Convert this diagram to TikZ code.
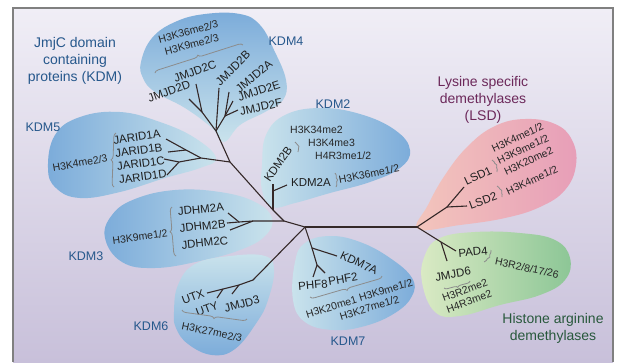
\documentclass[tikz,border=0pt]{standalone}
\usepackage{fontspec}
\setmainfont{Liberation Sans}
\usetikzlibrary{decorations.pathreplacing}
\definecolor{bgtop}{RGB}{240,238,246}
\definecolor{bgbot}{RGB}{200,192,218}
\definecolor{kdmdark}{RGB}{124,172,218}
\definecolor{kdmlight}{RGB}{202,227,236}
\definecolor{lsddark}{RGB}{231,158,184}
\definecolor{lsdlight}{RGB}{243,198,188}
\definecolor{argdark}{RGB}{140,198,150}
\definecolor{arglight}{RGB}{218,234,196}
\definecolor{kdmtext}{RGB}{38,88,140}
\definecolor{lsdtext}{RGB}{108,40,90}
\definecolor{argtext}{RGB}{40,88,60}
\definecolor{branch}{RGB}{52,40,40}
\definecolor{bracket}{RGB}{140,140,140}
\begin{document}
\begin{tikzpicture}[x=1pt, y=-1pt,
  gene/.style={font=\fontsize{11.5}{12}\selectfont, text=black!88, inner sep=0pt},
  genes/.style={gene, align=left, font=\fontsize{11.5}{#1}\selectfont},
  modif/.style={font=\fontsize{10.5}{11}\selectfont, text=black!85, inner sep=0pt},
  modifs/.style={modif, align=center, font=\fontsize{10.5}{#1}\selectfont},
  family/.style={font=\fontsize{12.5}{13}\selectfont, text=kdmtext, inner sep=0pt},
  title/.style={font=\fontsize{14}{17}\selectfont, align=center, inner sep=0pt},
  blob/.style={draw=none},
  twig/.style={draw=branch, line width=1.1pt},
  brack/.style={draw=bracket, line width=0.8pt, decorate, decoration={brace, amplitude=#1}},
  brack/.default=4pt
]
\useasboundingbox (0,0) rectangle (623,362);
\fill[white] (0,0) rectangle (623,362);
\shade[top color=bgtop, bottom color=bgbot] (13,8) rectangle (613,362);
\draw[gray, line width=1.3pt] (13,362) -- (13,8) -- (613,8) -- (613,362);

% group areas
\shade[blob, top color=kdmdark, bottom color=kdmlight] plot[smooth cycle, tension=0.7] coordinates
  {(141,62) (152,38) (175,22) (205,14) (240,14) (260,25) (274,50) (286,80) (283,100) (265,112) (240,125) (224,142) (212,128) (185,108) (155,92) (143,78)};
\shade[blob, left color=kdmdark, right color=kdmlight] plot[smooth cycle, tension=0.7] coordinates
  {(48,168) (55,135) (80,117) (120,112) (160,122) (195,138) (216,158) (200,168) (165,178) (120,192) (80,198) (56,188)};
\shade[blob, left color=kdmlight, right color=kdmdark] plot[smooth cycle, tension=0.7] coordinates
  {(262,165) (266,135) (285,115) (320,108) (360,114) (395,130) (410,150) (400,168) (370,182) (330,193) (295,203) (272,207) (262,190)};
\shade[blob, left color=kdmdark, right color=kdmlight] plot[smooth cycle, tension=0.7] coordinates
  {(105,238) (112,215) (135,199) (175,190) (220,192) (255,202) (272,218) (265,236) (240,250) (200,261) (155,268) (122,262)};
\shade[blob, top color=kdmlight, bottom color=kdmdark] plot[smooth cycle, tension=0.7] coordinates
  {(174,312) (178,285) (195,264) (230,256) (265,256) (274,270) (268,300) (257,322) (235,349) (212,355) (188,344) (176,328)};
\shade[blob, left color=kdmlight, right color=kdmdark] plot[smooth cycle, tension=0.7] coordinates
  {(293,300) (295,262) (305,243) (330,236) (360,242) (390,258) (412,278) (412,296) (395,313) (365,326) (333,330) (305,322)};
\shade[blob, left color=lsdlight, right color=lsddark] plot[smooth cycle, tension=0.7] coordinates
  {(418,229) (428,205) (445,175) (468,146) (495,126) (525,119) (555,124) (572,140) (576,165) (565,190) (540,207) (505,218) (460,225)};
\shade[blob, left color=arglight, right color=argdark] plot[smooth cycle, tension=0.7] coordinates
  {(422,282) (425,255) (440,238) (475,232) (520,233) (555,240) (570,258) (565,280) (540,295) (500,305) (460,316) (435,312)};

% tree
\coordinate (C) at (305,227);
\coordinate (R) at (417,227);
\coordinate (K) at (284,221);
\coordinate (T6) at (273,210);
\coordinate (T5) at (230,162);
\coordinate (T4) at (216,131);
\coordinate (D4) at (202,112);
\coordinate (E4) at (225,116);
\coordinate (j2d) at (189,99);
\coordinate (j2c) at (196,84);
\coordinate (j2b) at (219,88);
\coordinate (j2a) at (229,92);
\coordinate (j2e) at (233,101);
\coordinate (j2f) at (238,110);
\coordinate (K5) at (201,158);
\coordinate (K5a) at (186,150);
\coordinate (K5b) at (179,162);
\coordinate (j1a) at (166,139);
\coordinate (j1b) at (168,152);
\coordinate (j1c) at (164,159);
\coordinate (j1d) at (167,175);
\coordinate (K2) at (273,191);
\coordinate (k2b) at (273,184);
\coordinate (k2a) at (287,185);
\coordinate (K3) at (253,221);
\coordinate (K3a) at (239,222);
\coordinate (h2a) at (228,213);
\coordinate (h2b) at (227,223);
\coordinate (h2c) at (230,230);
\coordinate (K6) at (253,280);
\coordinate (K6a) at (239,285);
\coordinate (K6b) at (223,289);
\coordinate (utx) at (207,293);
\coordinate (uty) at (217,298);
\coordinate (jd3) at (232,294);
\coordinate (K7) at (312,248);
\coordinate (K7b) at (317,265);
\coordinate (k7a) at (337,256);
\coordinate (phf8) at (313,277);
\coordinate (phf2) at (325,273);
\coordinate (KL) at (447,207);
\coordinate (lsd1) at (464,187);
\coordinate (lsd2) at (467,206);
\coordinate (KA) at (441,242);
\coordinate (pad4) at (456,251);
\coordinate (jd6) at (447,261);

\draw[twig] (C) -- (R);
\draw[twig] (C) -- (K) -- (T6) -- (T5) -- (T4);
\draw[twig] (T4) -- (D4) -- (j2d);
\draw[twig] (D4) -- (j2c);
\draw[twig] (T4) -- (j2b);
\draw[twig] (T4) -- (E4) -- (j2a);
\draw[twig] (E4) -- (j2e);
\draw[twig] (E4) -- (j2f);
\draw[twig] (T5) -- (K5) -- (K5a) -- (j1a);
\draw[twig] (K5a) -- (j1b);
\draw[twig] (K5) -- (K5b) -- (j1c);
\draw[twig] (K5b) -- (j1d);
\draw[twig] (T6) -- (K2) -- (k2b);
\draw[twig] (K2) -- (k2a);
\draw[twig] (K) -- (K3) -- (K3a) -- (h2a);
\draw[twig] (K3a) -- (h2b);
\draw[twig] (K3) -- (h2c);
\draw[twig] (C) -- (K6) -- (K6a) -- (K6b) -- (utx);
\draw[twig] (K6a) -- (jd3);
\draw[twig] (K6b) -- (uty);
\draw[twig] (C) -- (K7) -- (k7a);
\draw[twig] (K7) -- (K7b) -- (phf8);
\draw[twig] (K7b) -- (phf2);
\draw[twig] (R) -- (KL) -- (lsd1);
\draw[twig] (KL) -- (lsd2);
\draw[twig] (R) -- (KA) -- (pad4);
\draw[twig] (KA) -- (jd6);

% titles
\node[title, text=kdmtext] (jmjc) at (75,61) {JmjC domain\\containing\\proteins (KDM)};
\node[title, text=lsdtext] (lsdt) at (483,100) {Lysine specific\\demethylases\\(LSD)};
\node[title, text=argtext] (argt) at (553,328) {Histone arginine\\demethylases};

\node[family] (kdm4) at (286,41) {KDM4};
\node[family] (kdm5) at (43,127) {KDM5};
\node[family] (kdm2) at (333,104) {KDM2};
\node[family] (kdm3) at (86,256) {KDM3};
\node[family] (kdm6) at (151,326) {KDM6};
\node[family] (kdm7) at (348,341) {KDM7};

% KDM4
\node[modifs=13, rotate=15] (m4) at (190,38) {H3K36me2/3\\H3K9me2/3};
\draw[brack] (155,73) -- (243,45);
\node[gene, rotate=20] (g2c) at (195,71) {JMJD2C};
\node[gene, rotate=20] (g2d) at (169,91) {JMJD2D};
\node[gene, rotate=45] (g2b) at (233,68) {JMJD2B};
\node[gene, rotate=40] (g2a) at (254,76) {JMJD2A};
\node[gene, rotate=18] (g2e) at (259,91) {JMJD2E};
\node[gene, rotate=12] (g2f) at (261,107) {JMJD2F};

% KDM5
\node[modif, rotate=10] (m5) at (80,163) {H3K4me2/3};
\draw[brack] (114,187) -- (116,133);
\node[genes=13.3, rotate=8] (g1) at (140,157) {JARID1A\\JARID1B\\JARID1C\\JARID1D};

% KDM2
\node[modif, anchor=west] (m2a) at (290,130) {H3K34me2};
\node[modif, anchor=west] (m2b) at (308,143) {H3K4me3};
\node[modif, anchor=west] (m2c) at (315,156) {H4R3me1/2};
\draw[brack=2.5pt] (295,142) -- (298,152);
\node[gene, rotate=55] (gk2b) at (278,164) {KDM2B};
\node[gene] (gk2a) at (311,182) {KDM2A};
\draw[brack=2pt] (335,173) -- (336,187);
\node[modif, rotate=11] (m2d) at (369,174) {H3K36me1/2};

% KDM3
\node[modif, rotate=8] (m3) at (140,237) {H3K9me1/2};
\draw[brack] (176,256) -- (172,207);
\node[genes=17, rotate=6] (gh2) at (203,226) {JDHM2A\\JDHM2B\\JDHM2C};

% KDM6
\node[gene, rotate=20] (gutx) at (193,297) {UTX};
\node[gene, rotate=20] (guty) at (207,309) {UTY};
\node[gene, rotate=15] (gjd3) at (242,304) {JMJD3};
\draw[brack] (247,319) -- (182,310);
\node[modif, rotate=-12] (m6) at (212,332) {H3K27me2/3};

% KDM7
\node[gene, rotate=-25] (gk7a) at (359,263) {KDM7A};
\node[gene, rotate=10] (gphf2) at (343,279) {PHF2};
\node[gene, rotate=5] (gphf8) at (313,285) {PHF8};
\draw[brack] (382,276) -- (310,297);
\node[modifs=12, rotate=17] (m7) at (361,304) {H3K20me1 H3K9me1/2\\\hspace*{14pt}H3K27me1/2};

% LSD
\node[modifs=13, rotate=25] (ml) at (523,149) {H3K4me1/2\\H3K9me1/2\\H3K20me2};
\node[modif, rotate=25] (ml4) at (532,180) {H3K4me1/2};
\node[gene, rotate=25] (glsd1) at (478,176) {LSD1};
\draw[brack=2.5pt] (492,160) -- (497,172);
\node[gene, rotate=20] (glsd2) at (483,201) {LSD2};
\draw[brack=2.5pt] (497,186) -- (502,197);

% arginine
\node[gene, rotate=5] (gpad4) at (473,252) {PAD4};
\draw[brack=2.5pt] (491,250) -- (484,262);
\node[modif, rotate=-12] (ma1) at (527,268) {H3R2/8/17/26};
\node[gene, rotate=10] (gjd6) at (453,274) {JMJD6};
\draw[brack=3pt] (470,281) -- (444,288);
\node[modifs=12, rotate=20] (ma2) at (467,296) {H3R2me2\\H4R3me2};
\end{tikzpicture}
\end{document}
